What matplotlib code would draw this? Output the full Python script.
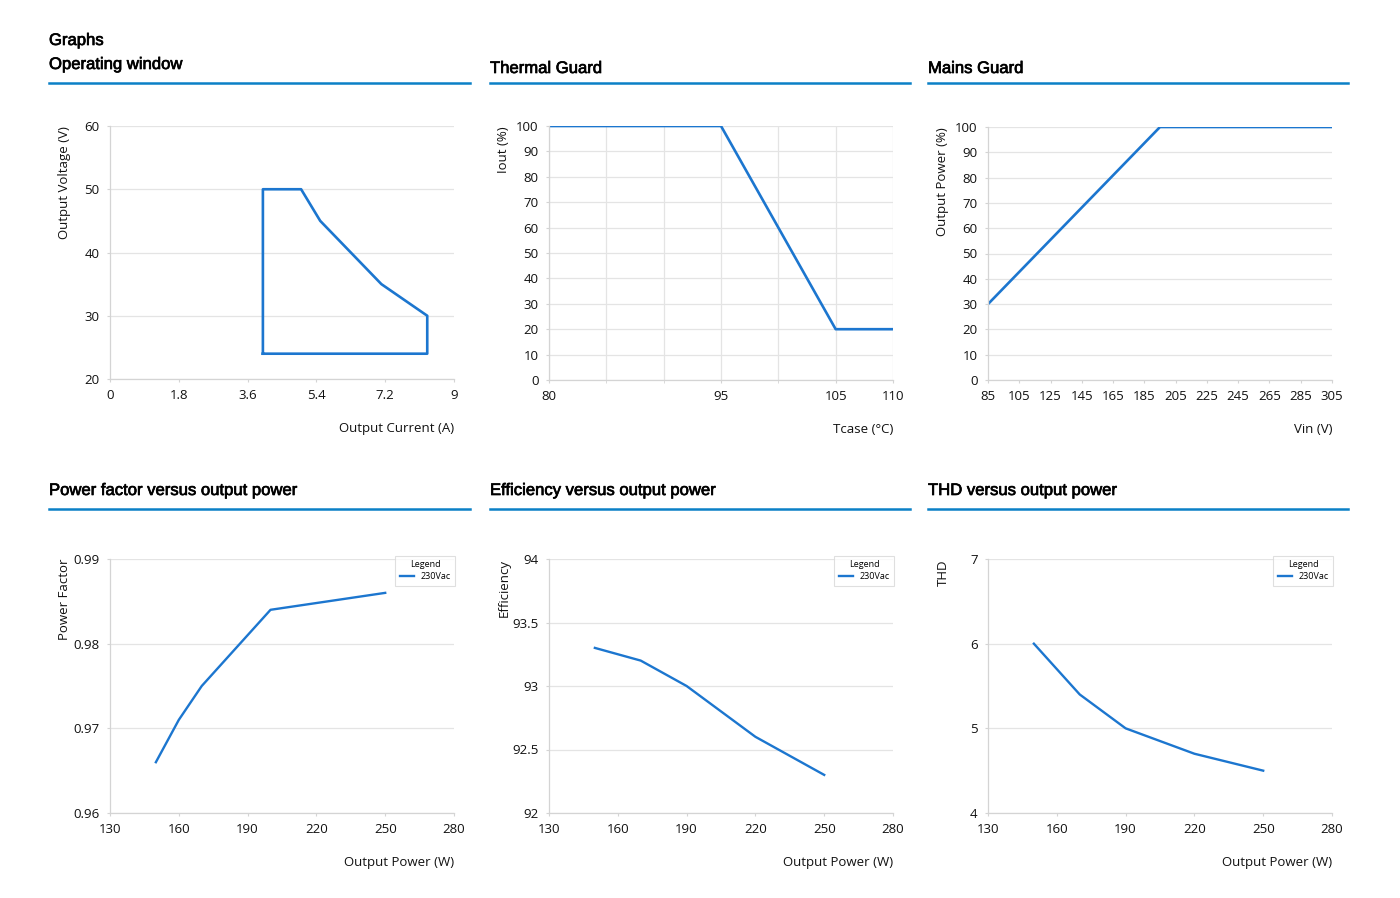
import matplotlib
matplotlib.use("Agg")
import matplotlib.pyplot as plt
from matplotlib.lines import Line2D
import matplotlib.patheffects as pe

plt.rcParams['font.family'] = ['Open Sans', 'DejaVu Sans']

# operating window (polygon outline)
ow_current = [4.0, 4.0, 5.0, 5.5, 7.1, 8.3, 8.3, 4.0]
ow_voltage = [24, 50, 50, 45, 35, 30, 24, 24]

# thermal guard
tg_temp = [80, 95, 105, 110]
tg_iout = [100, 100, 20, 20]

# mains guard
mg_vin = [85, 195, 305]
mg_power = [30, 100, 100]

# versus output power, 230Vac
out_power = [150, 160, 170, 200, 250]
power_factor = [0.966, 0.971, 0.975, 0.984, 0.986]

eff_power = [150, 170, 190, 220, 250]
efficiency = [93.3, 93.2, 93.0, 92.6, 92.3]

thd_power = [150, 170, 190, 220, 250]
thd = [6.0, 5.4, 5.0, 4.7, 4.5]

LINE = '#1c76cf'
HEAD = '#0b80c6'
GRID = '#e4e4e4'
SPINE = '#d4d4d4'

W, H = 1400, 898
fig = plt.figure(figsize=(14, 8.98), dpi=100)

# a touch heavier than regular, like the source headings
heavy = [pe.withStroke(linewidth=0.5, foreground='#000000')]


def make_ax(x0, x1, y0, y1):
    return fig.add_axes([x0 / W, 1 - y1 / H, (x1 - x0) / W, (y1 - y0) / H])


def style(ax, xlabel, ylabel, vgrid=False):
    for s in ['top', 'right']:
        ax.spines[s].set_visible(False)
    for s in ['left', 'bottom']:
        ax.spines[s].set_color(SPINE)
        ax.spines[s].set_linewidth(0.9)
    ax.grid(axis='y', color=GRID, linewidth=0.9)
    if vgrid:
        ax.grid(axis='x', which='both', color=GRID, linewidth=0.9)
    ax.set_axisbelow(True)
    ax.tick_params(which='both', length=2.5, color=SPINE, labelsize=9.5, pad=5,
                   labelcolor='#111111')
    ax.set_xlabel(xlabel, fontsize=9.5, loc='right', color='#111111')
    ax.xaxis.set_label_coords(1.0, -0.17)
    ax.set_ylabel(ylabel, fontsize=9.5, loc='top', color='#111111')
    ax.yaxis.set_label_coords(-0.112, 1.0)


def header(x0, x1, y, title, base):
    fig.text(x0 / W, 1 - base / H, title, fontsize=12, family='Liberation Sans',
             va='baseline', ha='left', color='#000000', path_effects=heavy)
    fig.add_artist(Line2D([x0 / W, x1 / W], [1 - y / H, 1 - y / H],
                          color=HEAD, linewidth=1.8))


def legend(ax):
    lg = ax.legend(title='Legend', loc='upper right', bbox_to_anchor=(1.003, 1.012),
                   borderaxespad=0, fontsize=6.5, title_fontsize=6.5, frameon=True,
                   fancybox=False, handlelength=1.6, handletextpad=0.7,
                   borderpad=0.5, labelspacing=0.3)
    lg.get_frame().set_edgecolor('#d8d8d8')
    lg.get_frame().set_linewidth(0.8)


fig.text(49 / W, 1 - 45 / H, 'Graphs', fontsize=12, family='Liberation Sans',
         va='baseline', color='#000000', path_effects=heavy)
header(49, 470, 83, 'Operating window', 69)
header(490, 910, 83, 'Thermal Guard', 73)
header(928, 1348, 83, 'Mains Guard', 73)
header(49, 470, 509, 'Power factor versus output power', 495)
header(490, 910, 509, 'Efficiency versus output power', 495)
header(928, 1348, 509, 'THD versus output power', 495)

# operating window
ax = make_ax(110, 454, 126, 379)
ax.plot(ow_current, ow_voltage, color=LINE, linewidth=1.9)
ax.set_xlim(0, 9)
ax.set_ylim(20, 60)
ax.set_xticks([0, 1.8, 3.6, 5.4, 7.2, 9])
ax.set_xticklabels(['0', '1.8', '3.6', '5.4', '7.2', '9'])
ax.set_yticks([20, 30, 40, 50, 60])
style(ax, 'Output Current (A)', 'Output Voltage (V)')

# thermal guard
ax = make_ax(549, 893, 126, 380)
ax.plot(tg_temp, tg_iout, color=LINE, linewidth=1.9)
ax.set_xlim(80, 110)
ax.set_ylim(0, 100)
ax.set_xticks([80, 95, 105, 110])
ax.set_xticks([85, 90, 100], minor=True)
ax.set_yticks(range(0, 101, 10))
style(ax, 'Tcase (°C)', 'Iout (%)', vgrid=True)

# mains guard
ax = make_ax(988, 1332, 127, 380)
ax.plot(mg_vin, mg_power, color=LINE, linewidth=1.9)
ax.set_xlim(85, 305)
ax.set_ylim(0, 100)
ax.set_xticks(range(85, 306, 20))
ax.set_yticks(range(0, 101, 10))
style(ax, 'Vin (V)', 'Output Power (%)')

# power factor
ax = make_ax(110, 454, 559, 813)
ax.plot(out_power, power_factor, color=LINE, linewidth=1.7, label='230Vac')
ax.set_xlim(130, 280)
ax.set_ylim(0.96, 0.99)
ax.set_xticks(range(130, 281, 30))
ax.set_yticks([0.96, 0.97, 0.98, 0.99])
style(ax, 'Output Power (W)', 'Power Factor')
legend(ax)

# efficiency
ax = make_ax(549, 893, 559, 813)
ax.plot(eff_power, efficiency, color=LINE, linewidth=1.7, label='230Vac')
ax.set_xlim(130, 280)
ax.set_ylim(92, 94)
ax.set_xticks(range(130, 281, 30))
ax.set_yticks([92, 92.5, 93, 93.5, 94])
ax.set_yticklabels(['92', '92.5', '93', '93.5', '94'])
style(ax, 'Output Power (W)', 'Efficiency')
legend(ax)

# THD
ax = make_ax(988, 1332, 559, 813)
ax.plot(thd_power, thd, color=LINE, linewidth=1.7, label='230Vac')
ax.set_xlim(130, 280)
ax.set_ylim(4, 7)
ax.set_xticks(range(130, 281, 30))
ax.set_yticks([4, 5, 6, 7])
style(ax, 'Output Power (W)', 'THD')
legend(ax)

fig.savefig('out.png', dpi=100, facecolor='white')
